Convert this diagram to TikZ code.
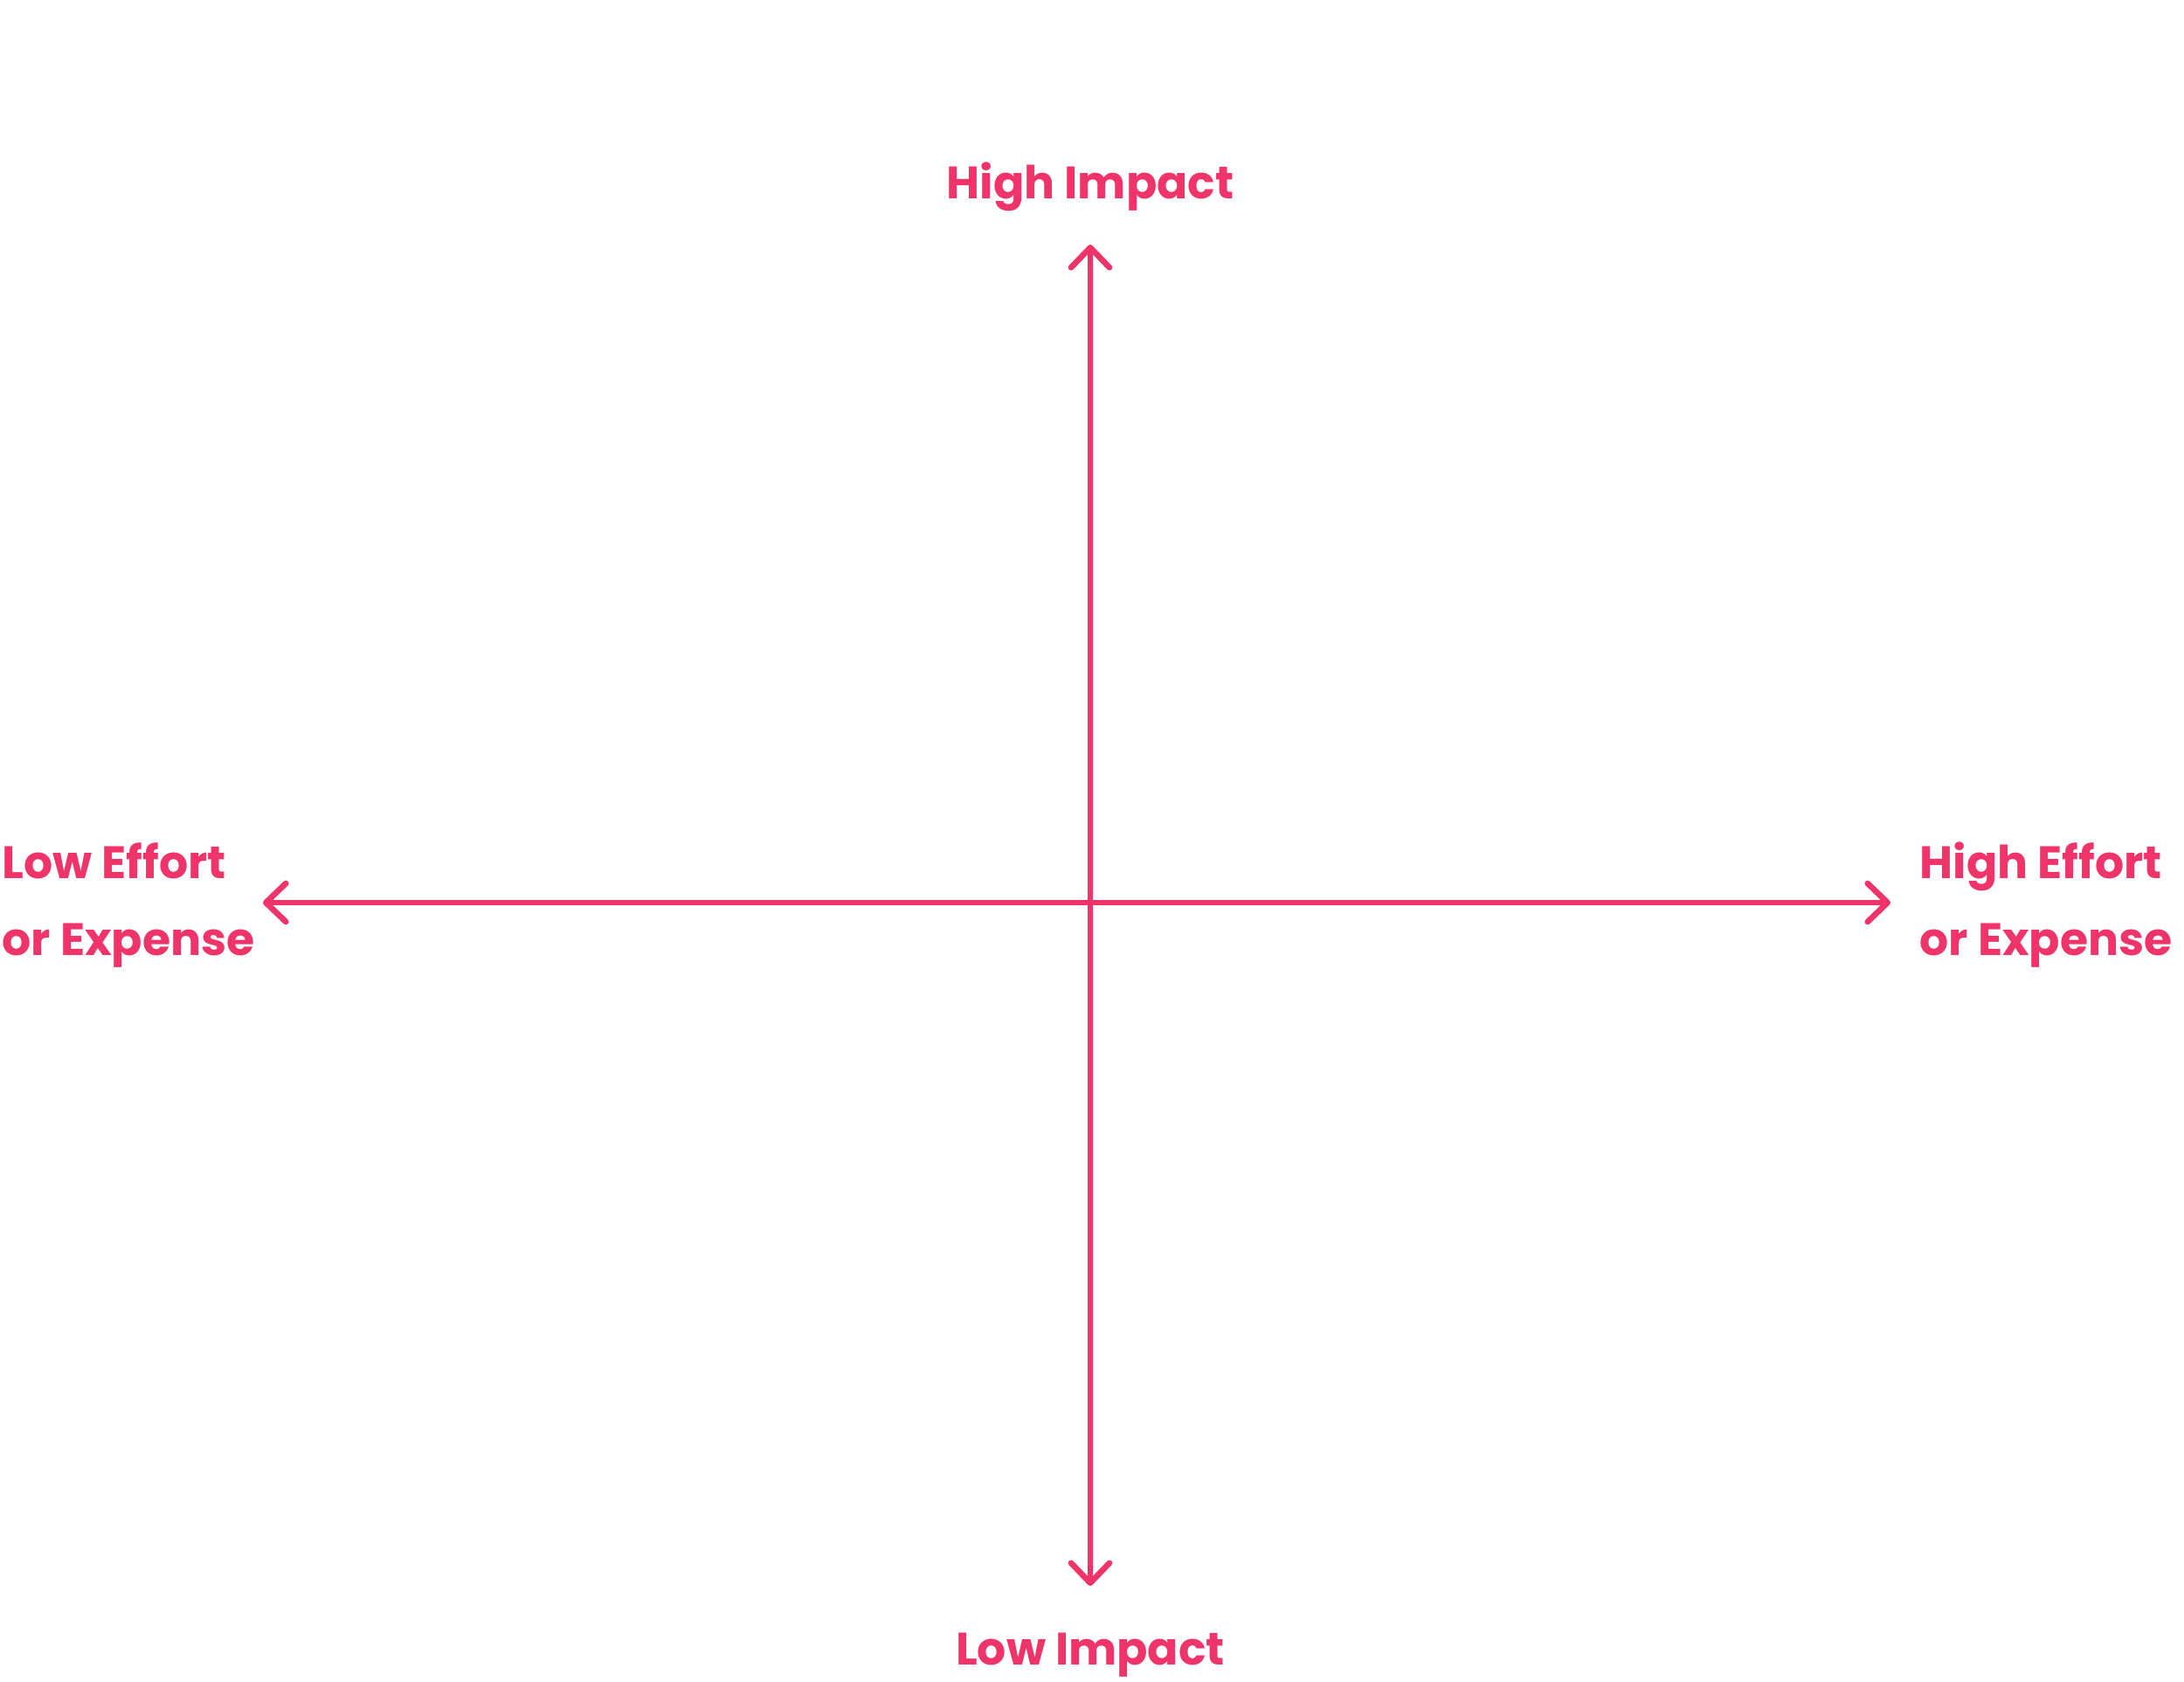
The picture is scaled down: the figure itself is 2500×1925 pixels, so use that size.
\documentclass[tikz,border=0pt]{standalone}
\usepackage{fontspec}
\setmainfont{Poppins}
\newfontfamily\titlefont{Liberation Sans}
\usetikzlibrary{arrows.meta}
\definecolor{impactpink}{HTML}{EE3468}
\begin{document}
\begin{tikzpicture}[x=0.01cm,y=-0.01cm,
    axislabel/.style={impactpink,inner sep=0pt,font=\fontsize{14.8}{25}\selectfont\bfseries},
    feature/.style={white,inner sep=0pt,align=center,font=\fontsize{11.4}{19.6}\selectfont},
    axisline/.style={impactpink,line width=1.9pt,{Straight Barb[round,length=6.5pt,width=12.5pt]}-{Straight Barb[round,length=6.5pt,width=12.5pt]}}]
  \useasboundingbox[fill=white] (0,0) rectangle (2500,1925);
  \node[white,font=\titlefont\fontsize{21.6}{26}\selectfont\bfseries] (title) at (1248,48) {Features High to Low};
  % axes
  \coordinate (top) at (1248,280);
  \coordinate (bottom) at (1248,1815);
  \coordinate (left) at (301,1033);
  \coordinate (right) at (2164,1033);
  \draw[axisline] (bottom) -- (top);
  \draw[axisline] (left) -- (right);
  \node[axislabel] (high) at (1248,214) {High Impact};
  \node[axislabel] (low) at (1248,1894) {Low Impact};
  \node[axislabel,anchor=west,align=left] (loweffort) at (2,1036) {Low Effort\\or Expense};
  \node[axislabel,anchor=west,align=left] (higheffort) at (2197,1036) {High Effort\\or Expense};
  % quadrants
  \node[feature] (maps) at (800,552) {Google or Apple Maps};
  \node[feature] (photos) at (800,684) {Photos of travel spots};
  \node[feature] (gps) at (800,818) {GPS navigation};
  \node[feature] (categories) at (1746,568) {Categories with food, activities,\\popular tourist attractions, etc...};
  \node[feature] (times) at (1746,735) {Travel times between locations};
  \node[feature] (nearby) at (1746,869) {Suggested locations to visit nearby};
  \node[feature] (filters) at (800,1249) {Filters for travel distances\\(ex: within 10–30 miles)};
  \node[feature] (unique) at (800,1450) {Introduce various/unique\\tourist attractions};
  \node[feature] (rating) at (1741,1217) {5–star rating or review system};
  \node[feature] (reviews) at (1741,1350) {Customer reviews for authenticity};
  \node[feature] (ratingtwo) at (1741,1483) {5–star rating or review system};
\end{tikzpicture}
\end{document}
